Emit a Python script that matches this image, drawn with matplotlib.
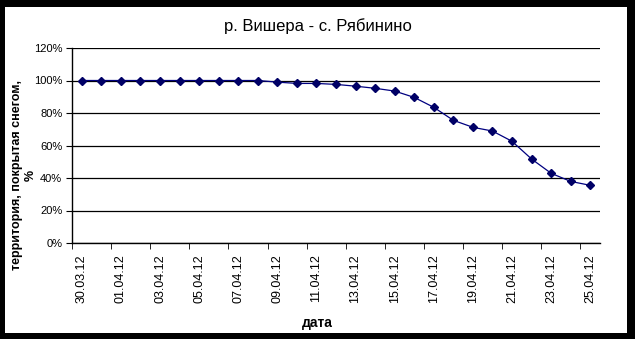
import matplotlib.pyplot as plt
from matplotlib.patches import Rectangle
import numpy as np

plt.rcParams['font.family'] = ['Liberation Sans', 'DejaVu Sans']

# даты наблюдений
dates = ["30.03.12", "31.03.12"] + ["%02d.04.12" % d for d in range(1, 26)]
# доля территории под снегом, %
snow = [100, 100, 100, 100, 100, 100, 100, 100, 100, 100,
        99.0, 98.2, 98.2, 97.6, 96.5, 95.2, 93.5, 89.6, 83.5, 75.5,
        71.2, 68.9, 62.6, 51.7, 42.9, 37.9, 35.5]
yticks = [0, 20, 40, 60, 80, 100, 120]

fig = plt.figure(figsize=(6.35, 3.39), dpi=100, facecolor="black")
# белая область внутри чёрной рамки
fig.patches.append(Rectangle((5 / 635, 6 / 339), 1 - 13 / 635, 1 - 13 / 339,
                             transform=fig.transFigure, facecolor="white",
                             edgecolor="none", zorder=-10))

ax = fig.add_axes([72 / 635, 1 - 243 / 339, 528 / 635, 195 / 339])
ax.set_facecolor("white")

x = np.arange(len(dates))
ax.plot(x, snow, color="#000080", linewidth=0.9, marker="D", markersize=4,
        markerfacecolor="#000066", markeredgecolor="#000066")

ax.set_xlim(-0.5, len(dates) - 0.5)
ax.set_ylim(0, 120)
ax.set_yticks(yticks)
ax.set_yticklabels(["%d%%" % v for v in yticks], fontsize=8)
ax.yaxis.grid(True, color="black", linewidth=0.9)
ax.set_axisbelow(True)

ax.set_xticks(x[::2])
ax.set_xticklabels(dates[::2], rotation=90, fontsize=9)
ax.set_xticks(np.arange(-0.5, len(dates), 2), minor=True)
ax.tick_params(axis="x", which="major", length=0, pad=8)
ax.tick_params(axis="x", which="minor", length=4, color="black")
ax.tick_params(axis="y", length=4, color="black", pad=3)

for s in ["top", "right"]:
    ax.spines[s].set_visible(False)
for s in ["left", "bottom"]:
    ax.spines[s].set_color("black")
    ax.spines[s].set_linewidth(1)

fig.text(0.5, 1 - 26 / 339, "р. Вишера - с. Рябинино", ha="center", va="center",
         fontsize=12)
fig.text(0.5, 1 - 323 / 339, "дата", ha="center", va="center",
         fontsize=10, fontweight="bold")
fig.text(24 / 635, 1 - 175 / 339, "территория, покрытая снегом,\n%", rotation=90,
         ha="center", va="center", fontsize=9, fontweight="bold",
         multialignment="center", linespacing=1.15)

fig.savefig("out.png", dpi=100, facecolor="black")
